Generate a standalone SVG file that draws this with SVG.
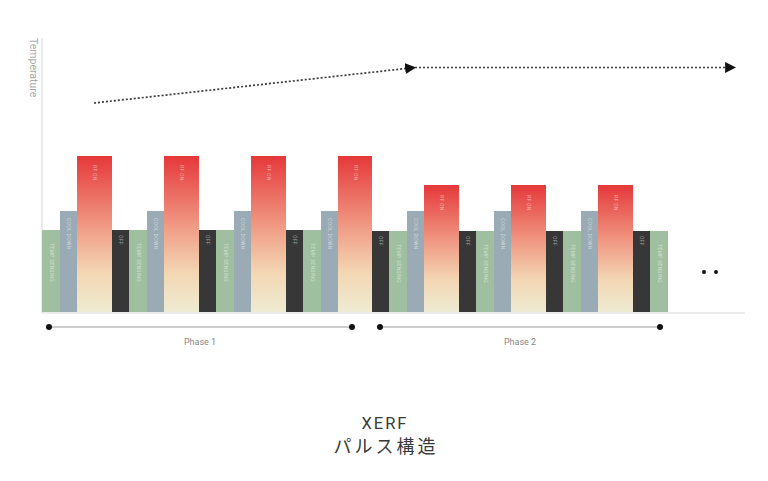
<svg xmlns="http://www.w3.org/2000/svg" width="768" height="481" viewBox="0 0 768 481">
<style>
.axis{stroke:#dcdcdc;stroke-width:1.2;fill:none}
.g{fill:#9fbfa0}
.b{fill:#9aabb5}
.k{fill:#373737}
.r{fill:url(#rg)}
.bt{font-family:Roboto,"Liberation Sans",sans-serif;font-size:5px;fill:#ffffff;fill-opacity:0.5;dominant-baseline:middle;letter-spacing:0.3px}
.dot{stroke:#3a3a3a;stroke-width:1.7;stroke-dasharray:2 2;fill:none}
.ph{stroke:#9a9a9a;stroke-width:1;fill:none}
.pd{fill:#111}
.pl{font-family:Roboto,"Liberation Sans",sans-serif;font-size:9px;fill:#888;text-anchor:middle}
.ttl{font-family:Roboto,"Liberation Sans","Noto Sans CJK JP",sans-serif;fill:#3a3a3a;text-anchor:middle}
</style>
<defs>
<linearGradient id="rg" x1="0" y1="0" x2="0" y2="1">
<stop offset="0" stop-color="#e5383a"/>
<stop offset="0.45" stop-color="#f09a84"/>
<stop offset="0.75" stop-color="#f3d7b4"/>
<stop offset="1" stop-color="#eeebd2"/>
</linearGradient>
<marker id="ah" viewBox="0 0 10 10" refX="9" refY="5" markerWidth="11" markerHeight="11" markerUnits="userSpaceOnUse" orient="auto">
<path d="M0,0 L10,5 L0,10 Z" fill="#111"/>
</marker>
</defs>
<g id="axes">
<line class="axis" x1="42" y1="38" x2="42" y2="313"/>
<line class="axis" x1="42" y1="313" x2="745" y2="313"/>
<text transform="translate(29.5,38) rotate(90)" font-family="Roboto,'Liberation Sans',sans-serif" font-size="10.5" fill="#aaa">Temperature</text>
</g>
<g id="phase1-bars">
<g id="p1-g1"><rect class="g" x="42" y="230" width="18" height="82"/><text class="bt" transform="translate(51,243) rotate(90)">TEMP SENSING</text></g>
<g id="p1-c1"><rect class="b" x="60" y="211" width="17" height="101"/><text class="bt" transform="translate(68.5,218) rotate(90)">COOL DOWN</text></g>
<g id="p1-r1"><rect class="r" x="77" y="156" width="35" height="156"/><text class="bt" transform="translate(94.5,165) rotate(90)">RF ON</text></g>
<g id="p1-o1"><rect class="k" x="112" y="230" width="17" height="82"/><text class="bt" transform="translate(120.5,235) rotate(90)">OFF</text></g>

<g id="p1-g2"><rect class="g" x="129" y="230" width="18" height="82"/><text class="bt" transform="translate(138,243) rotate(90)">TEMP SENSING</text></g>
<g id="p1-c2"><rect class="b" x="147" y="211" width="17" height="101"/><text class="bt" transform="translate(155.5,218) rotate(90)">COOL DOWN</text></g>
<g id="p1-r2"><rect class="r" x="164" y="156" width="35" height="156"/><text class="bt" transform="translate(181.5,165) rotate(90)">RF ON</text></g>
<g id="p1-o2"><rect class="k" x="199" y="230" width="17" height="82"/><text class="bt" transform="translate(207.5,235) rotate(90)">OFF</text></g>

<g id="p1-g3"><rect class="g" x="216" y="230" width="18" height="82"/><text class="bt" transform="translate(225,243) rotate(90)">TEMP SENSING</text></g>
<g id="p1-c3"><rect class="b" x="234" y="211" width="17" height="101"/><text class="bt" transform="translate(242.5,218) rotate(90)">COOL DOWN</text></g>
<g id="p1-r3"><rect class="r" x="251" y="156" width="35" height="156"/><text class="bt" transform="translate(268.5,165) rotate(90)">RF ON</text></g>
<g id="p1-o3"><rect class="k" x="286" y="230" width="17" height="82"/><text class="bt" transform="translate(294.5,235) rotate(90)">OFF</text></g>

<g id="p1-g4"><rect class="g" x="303" y="230" width="18" height="82"/><text class="bt" transform="translate(312,243) rotate(90)">TEMP SENSING</text></g>
<g id="p1-c4"><rect class="b" x="321" y="211" width="17" height="101"/><text class="bt" transform="translate(329.5,218) rotate(90)">COOL DOWN</text></g>
<g id="p1-r4"><rect class="r" x="338" y="156" width="34" height="156"/><text class="bt" transform="translate(355,165) rotate(90)">RF ON</text></g>
</g>
<g id="phase2-bars">
<g id="p2-o1"><rect class="k" x="372" y="231" width="17" height="81"/><text class="bt" transform="translate(380.5,236) rotate(90)">OFF</text></g>
<g id="p2-g1"><rect class="g" x="389" y="231" width="18" height="81"/><text class="bt" transform="translate(398,244) rotate(90)">TEMP SENSING</text></g>
<g id="p2-c1"><rect class="b" x="407" y="211" width="17" height="101"/><text class="bt" transform="translate(415.5,218) rotate(90)">COOL DOWN</text></g>
<g id="p2-r1"><rect class="r" x="424" y="185" width="35" height="127"/><text class="bt" transform="translate(441.5,195) rotate(90)">RF ON</text></g>
<g id="p2-o2"><rect class="k" x="459" y="231" width="17" height="81"/><text class="bt" transform="translate(467.5,236) rotate(90)">OFF</text></g>

<g id="p2-g2"><rect class="g" x="476" y="231" width="18" height="81"/><text class="bt" transform="translate(485,244) rotate(90)">TEMP SENSING</text></g>
<g id="p2-c2"><rect class="b" x="494" y="211" width="17" height="101"/><text class="bt" transform="translate(502.5,218) rotate(90)">COOL DOWN</text></g>
<g id="p2-r2"><rect class="r" x="511" y="185" width="35" height="127"/><text class="bt" transform="translate(528.5,195) rotate(90)">RF ON</text></g>
<g id="p2-o3"><rect class="k" x="546" y="231" width="17" height="81"/><text class="bt" transform="translate(554.5,236) rotate(90)">OFF</text></g>

<g id="p2-g3"><rect class="g" x="563" y="231" width="18" height="81"/><text class="bt" transform="translate(572,244) rotate(90)">TEMP SENSING</text></g>
<g id="p2-c3"><rect class="b" x="581" y="211" width="17" height="101"/><text class="bt" transform="translate(589.5,218) rotate(90)">COOL DOWN</text></g>
<g id="p2-r3"><rect class="r" x="598" y="185" width="35" height="127"/><text class="bt" transform="translate(615.5,195) rotate(90)">RF ON</text></g>
<g id="p2-o4"><rect class="k" x="633" y="231" width="17" height="81"/><text class="bt" transform="translate(641.5,236) rotate(90)">OFF</text></g>
<g id="p2-g4"><rect class="g" x="650" y="231" width="18" height="81"/><text class="bt" transform="translate(659,244) rotate(90)">TEMP SENSING</text></g>
</g>
<g id="ellipsis">
<circle cx="704" cy="272" r="2" fill="#111"/>
<circle cx="716" cy="272" r="2" fill="#111"/>
</g>
<g id="connectors">
<line class="dot" x1="94" y1="103" x2="415" y2="67.5" marker-end="url(#ah)"/>
<line class="dot" x1="415" y1="67.5" x2="735" y2="67.5" marker-end="url(#ah)"/>
<line class="ph" x1="49" y1="327" x2="352" y2="327"/>
<circle class="pd" cx="49" cy="327" r="3"/>
<circle class="pd" cx="352" cy="327" r="3"/>
<line class="ph" x1="380" y1="327" x2="660" y2="327"/>
<circle class="pd" cx="380" cy="327" r="3"/>
<circle class="pd" cx="660" cy="327" r="3"/>
</g>
<g id="labels">
<text class="pl" x="200" y="345">Phase 1</text>
<text class="pl" x="520" y="345">Phase 2</text>
<text class="ttl" x="385" y="429" font-size="16.5" letter-spacing="2">XERF</text>
<text class="ttl" x="386" y="453" font-size="18" letter-spacing="3">パルス構造</text>
</g>
</svg>
